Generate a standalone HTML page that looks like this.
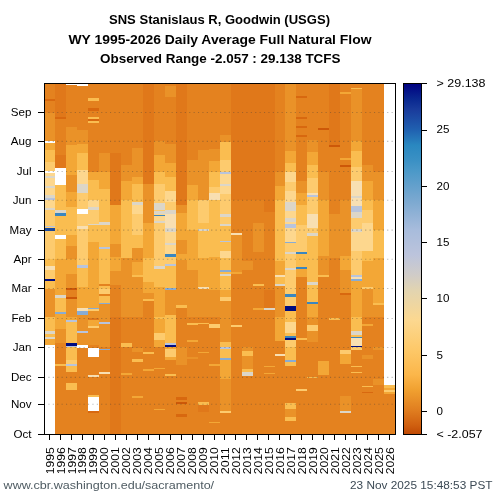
<!DOCTYPE html>
<html><head><meta charset="utf-8"><style>
html,body{margin:0;padding:0;background:#fff;width:500px;height:500px;overflow:hidden}
svg{display:block;will-change:transform}
text{font-family:"Liberation Sans",sans-serif;fill:#000}
.t{font-weight:bold;font-size:13.6px}
.yl{font-size:11.6px}
.xl{font-size:11.6px}
.cl{font-size:11.6px}
.ft{font-size:11.6px}
</style></head><body>
<svg width="500" height="500" viewBox="0 0 500 500" shape-rendering="crispEdges">
<defs><linearGradient id="cg" x1="0" y1="0" x2="0" y2="1"><stop offset="0.0000" stop-color="#000080"/><stop offset="0.0461" stop-color="#0a2890"/><stop offset="0.0769" stop-color="#1a3c9c"/><stop offset="0.1326" stop-color="#2060b0"/><stop offset="0.1775" stop-color="#2a88c0"/><stop offset="0.2192" stop-color="#3a90c4"/><stop offset="0.2481" stop-color="#4a98c8"/><stop offset="0.3333" stop-color="#7aa8d0"/><stop offset="0.4189" stop-color="#a8bcdc"/><stop offset="0.4901" stop-color="#bcc4dc"/><stop offset="0.5471" stop-color="#d0ccc8"/><stop offset="0.5911" stop-color="#e2d4b0"/><stop offset="0.6754" stop-color="#fcd890"/><stop offset="0.7610" stop-color="#fdc868"/><stop offset="0.8315" stop-color="#fbb64a"/><stop offset="0.8748" stop-color="#f0a030"/><stop offset="0.9318" stop-color="#e07e20"/><stop offset="0.9745" stop-color="#d06010"/><stop offset="1.0000" stop-color="#c04a04"/></linearGradient></defs>
<g><rect x="45" y="83" width="10" height="16" fill="#e4821f"/><rect x="45" y="99" width="10" height="2" fill="#d8680f"/><rect x="45" y="101" width="10" height="12" fill="#e4821f"/><rect x="45" y="113" width="10" height="28" fill="#ea9228"/><rect x="45" y="141" width="10" height="2" fill="#ffffff"/><rect x="45" y="143" width="10" height="7" fill="#f3a736"/><rect x="45" y="150" width="10" height="12" fill="#fabd50"/><rect x="45" y="162" width="10" height="9" fill="#fdcb6e"/><rect x="45" y="171" width="10" height="2" fill="#ffffff"/><rect x="45" y="173" width="10" height="3" fill="#fdd78e"/><rect x="45" y="176" width="10" height="2" fill="#dcd6c8"/><rect x="45" y="178" width="10" height="8" fill="#fdd78e"/><rect x="45" y="186" width="10" height="2" fill="#dcd6c8"/><rect x="45" y="188" width="10" height="7" fill="#fdd78e"/><rect x="45" y="195" width="10" height="3" fill="#dcd6c8"/><rect x="45" y="198" width="10" height="2" fill="#b8c4dc"/><rect x="45" y="200" width="10" height="8" fill="#fdd78e"/><rect x="45" y="208" width="10" height="2" fill="#dcd6c8"/><rect x="45" y="210" width="10" height="16" fill="#fdcb6e"/><rect x="45" y="226" width="10" height="1" fill="#b8c4dc"/><rect x="45" y="227" width="10" height="1" fill="#fdcb6e"/><rect x="45" y="228" width="10" height="3" fill="#1a4aa0"/><rect x="45" y="231" width="10" height="28" fill="#fdcb6e"/><rect x="45" y="259" width="10" height="7" fill="#fabd50"/><rect x="45" y="266" width="10" height="4" fill="#f8dfb2"/><rect x="45" y="270" width="10" height="9" fill="#fdcb6e"/><rect x="45" y="279" width="10" height="2" fill="#000c80"/><rect x="45" y="281" width="10" height="8" fill="#fabd50"/><rect x="45" y="289" width="10" height="28" fill="#ea9228"/><rect x="45" y="317" width="10" height="14" fill="#fabd50"/><rect x="45" y="331" width="10" height="3" fill="#dcd6c8"/><rect x="45" y="334" width="10" height="3" fill="#fabd50"/><rect x="45" y="337" width="10" height="2" fill="#dcd6c8"/><rect x="45" y="339" width="10" height="6" fill="#f3a736"/><rect x="45" y="345" width="10" height="89" fill="#ffffff"/><rect x="55" y="83" width="11" height="34" fill="#e0781a"/><rect x="55" y="117" width="11" height="2" fill="#d8680f"/><rect x="55" y="119" width="11" height="36" fill="#e4821f"/><rect x="55" y="155" width="11" height="13" fill="#e0781a"/><rect x="55" y="168" width="11" height="17" fill="#ffffff"/><rect x="55" y="185" width="11" height="25" fill="#fabd50"/><rect x="55" y="210" width="11" height="3" fill="#dcd6c8"/><rect x="55" y="213" width="11" height="3" fill="#3a86c0"/><rect x="55" y="216" width="11" height="19" fill="#fabd50"/><rect x="55" y="235" width="11" height="4" fill="#ffffff"/><rect x="55" y="239" width="11" height="20" fill="#fabd50"/><rect x="55" y="259" width="11" height="36" fill="#f3a736"/><rect x="55" y="295" width="11" height="3" fill="#dcd6c8"/><rect x="55" y="298" width="11" height="14" fill="#fabd50"/><rect x="55" y="312" width="11" height="2" fill="#88acd4"/><rect x="55" y="314" width="11" height="15" fill="#f3a736"/><rect x="55" y="329" width="11" height="14" fill="#ea9228"/><rect x="55" y="343" width="11" height="21" fill="#e4821f"/><rect x="55" y="364" width="11" height="2" fill="#fabd50"/><rect x="55" y="366" width="11" height="68" fill="#e4821f"/><rect x="66" y="83" width="11" height="2" fill="#ffffff"/><rect x="66" y="85" width="11" height="42" fill="#e4821f"/><rect x="66" y="127" width="11" height="18" fill="#ea9228"/><rect x="66" y="145" width="11" height="30" fill="#f3a736"/><rect x="66" y="175" width="11" height="17" fill="#ea9228"/><rect x="66" y="192" width="11" height="15" fill="#f3a736"/><rect x="66" y="207" width="11" height="28" fill="#fabd50"/><rect x="66" y="235" width="11" height="11" fill="#f3a736"/><rect x="66" y="246" width="11" height="13" fill="#ea9228"/><rect x="66" y="259" width="11" height="15" fill="#f3a736"/><rect x="66" y="274" width="11" height="8" fill="#ea9228"/><rect x="66" y="282" width="11" height="6" fill="#ea9228"/><rect x="66" y="288" width="11" height="2" fill="#cd5808"/><rect x="66" y="290" width="11" height="7" fill="#e4821f"/><rect x="66" y="297" width="11" height="2" fill="#cd5808"/><rect x="66" y="299" width="11" height="18" fill="#ea9228"/><rect x="66" y="317" width="11" height="3" fill="#f3a736"/><rect x="66" y="320" width="11" height="2" fill="#b8c4dc"/><rect x="66" y="322" width="11" height="21" fill="#fabd50"/><rect x="66" y="343" width="11" height="3" fill="#000c80"/><rect x="66" y="346" width="11" height="1" fill="#b8c4dc"/><rect x="66" y="347" width="11" height="13" fill="#fabd50"/><rect x="66" y="360" width="11" height="4" fill="#fdcb6e"/><rect x="66" y="364" width="11" height="2" fill="#b8c4dc"/><rect x="66" y="366" width="11" height="6" fill="#fabd50"/><rect x="66" y="372" width="11" height="11" fill="#e4821f"/><rect x="66" y="383" width="11" height="7" fill="#fabd50"/><rect x="66" y="390" width="11" height="44" fill="#e4821f"/><rect x="77" y="83" width="11" height="3" fill="#ffffff"/><rect x="77" y="86" width="11" height="44" fill="#e4821f"/><rect x="77" y="130" width="11" height="14" fill="#ea9228"/><rect x="77" y="144" width="11" height="9" fill="#f3a736"/><rect x="77" y="153" width="11" height="17" fill="#fabd50"/><rect x="77" y="170" width="11" height="14" fill="#fdd78e"/><rect x="77" y="184" width="11" height="9" fill="#dcd6c8"/><rect x="77" y="193" width="11" height="16" fill="#fdcb6e"/><rect x="77" y="209" width="11" height="5" fill="#ffffff"/><rect x="77" y="214" width="11" height="12" fill="#fdcb6e"/><rect x="77" y="226" width="11" height="3" fill="#f8dfb2"/><rect x="77" y="229" width="11" height="36" fill="#fdcb6e"/><rect x="77" y="265" width="11" height="3" fill="#b8c4dc"/><rect x="77" y="268" width="11" height="19" fill="#fabd50"/><rect x="77" y="287" width="11" height="21" fill="#f3a736"/><rect x="77" y="308" width="11" height="3" fill="#f8dfb2"/><rect x="77" y="311" width="11" height="4" fill="#88acd4"/><rect x="77" y="315" width="11" height="16" fill="#ea9228"/><rect x="77" y="331" width="11" height="2" fill="#b8c4dc"/><rect x="77" y="333" width="11" height="12" fill="#ea9228"/><rect x="77" y="345" width="11" height="3" fill="#ffffff"/><rect x="77" y="348" width="11" height="86" fill="#e4821f"/><rect x="88" y="83" width="11" height="15" fill="#e4821f"/><rect x="88" y="98" width="11" height="3" fill="#fabd50"/><rect x="88" y="101" width="11" height="7" fill="#e4821f"/><rect x="88" y="108" width="11" height="3" fill="#d8680f"/><rect x="88" y="111" width="11" height="6" fill="#e4821f"/><rect x="88" y="117" width="11" height="2" fill="#fabd50"/><rect x="88" y="119" width="11" height="2" fill="#d8680f"/><rect x="88" y="121" width="11" height="2" fill="#fabd50"/><rect x="88" y="123" width="11" height="49" fill="#e4821f"/><rect x="88" y="172" width="11" height="8" fill="#f3a736"/><rect x="88" y="180" width="11" height="20" fill="#fabd50"/><rect x="88" y="200" width="11" height="7" fill="#fdd78e"/><rect x="88" y="207" width="11" height="3" fill="#dcd6c8"/><rect x="88" y="210" width="11" height="14" fill="#fdcb6e"/><rect x="88" y="224" width="11" height="1" fill="#dcd6c8"/><rect x="88" y="225" width="11" height="17" fill="#fabd50"/><rect x="88" y="242" width="11" height="19" fill="#f3a736"/><rect x="88" y="261" width="11" height="47" fill="#f3a736"/><rect x="88" y="308" width="11" height="1" fill="#88acd4"/><rect x="88" y="309" width="11" height="2" fill="#fdcb6e"/><rect x="88" y="311" width="11" height="7" fill="#ea9228"/><rect x="88" y="318" width="11" height="2" fill="#e0781a"/><rect x="88" y="320" width="11" height="6" fill="#f3a736"/><rect x="88" y="326" width="11" height="2" fill="#fdcb6e"/><rect x="88" y="328" width="11" height="17" fill="#ea9228"/><rect x="88" y="345" width="11" height="3" fill="#e4821f"/><rect x="88" y="348" width="11" height="9" fill="#ffffff"/><rect x="88" y="357" width="11" height="18" fill="#e4821f"/><rect x="88" y="375" width="11" height="2" fill="#f8dfb2"/><rect x="88" y="377" width="11" height="18" fill="#e4821f"/><rect x="88" y="395" width="11" height="2" fill="#fabd50"/><rect x="88" y="397" width="11" height="14" fill="#ffffff"/><rect x="88" y="411" width="11" height="2" fill="#d8680f"/><rect x="88" y="413" width="11" height="21" fill="#e4821f"/><rect x="99" y="83" width="11" height="70" fill="#e4821f"/><rect x="99" y="153" width="11" height="19" fill="#ea9228"/><rect x="99" y="172" width="11" height="17" fill="#f3a736"/><rect x="99" y="189" width="11" height="33" fill="#fabd50"/><rect x="99" y="222" width="11" height="3" fill="#dcd6c8"/><rect x="99" y="225" width="11" height="22" fill="#fabd50"/><rect x="99" y="247" width="11" height="2" fill="#b8c4dc"/><rect x="99" y="249" width="11" height="35" fill="#fabd50"/><rect x="99" y="284" width="11" height="2" fill="#e4821f"/><rect x="99" y="286" width="11" height="3" fill="#fabd50"/><rect x="99" y="289" width="11" height="5" fill="#fdcb6e"/><rect x="99" y="294" width="11" height="2" fill="#e4821f"/><rect x="99" y="296" width="11" height="7" fill="#fabd50"/><rect x="99" y="303" width="11" height="1" fill="#88acd4"/><rect x="99" y="304" width="11" height="18" fill="#ea9228"/><rect x="99" y="322" width="11" height="2" fill="#b8c4dc"/><rect x="99" y="324" width="11" height="23" fill="#ea9228"/><rect x="99" y="347" width="11" height="2" fill="#e4821f"/><rect x="99" y="349" width="11" height="1" fill="#88acd4"/><rect x="99" y="350" width="11" height="22" fill="#e4821f"/><rect x="99" y="372" width="11" height="2" fill="#f8dfb2"/><rect x="99" y="374" width="11" height="60" fill="#e4821f"/><rect x="110" y="83" width="11" height="70" fill="#e4821f"/><rect x="110" y="153" width="11" height="52" fill="#e0781a"/><rect x="110" y="205" width="11" height="39" fill="#f3a736"/><rect x="110" y="244" width="11" height="13" fill="#ea9228"/><rect x="110" y="257" width="11" height="14" fill="#f3a736"/><rect x="110" y="271" width="11" height="14" fill="#ea9228"/><rect x="110" y="285" width="11" height="32" fill="#e4821f"/><rect x="110" y="317" width="11" height="117" fill="#e0781a"/><rect x="121" y="83" width="11" height="82" fill="#e4821f"/><rect x="121" y="165" width="11" height="16" fill="#ea9228"/><rect x="121" y="181" width="11" height="19" fill="#f3a736"/><rect x="121" y="200" width="11" height="58" fill="#fabd50"/><rect x="121" y="258" width="11" height="59" fill="#ea9228"/><rect x="121" y="317" width="11" height="26" fill="#e4821f"/><rect x="121" y="343" width="11" height="4" fill="#fabd50"/><rect x="121" y="347" width="11" height="26" fill="#e4821f"/><rect x="121" y="373" width="11" height="2" fill="#f3a736"/><rect x="121" y="375" width="11" height="59" fill="#e4821f"/><rect x="132" y="83" width="11" height="65" fill="#e4821f"/><rect x="132" y="148" width="11" height="29" fill="#ea9228"/><rect x="132" y="177" width="11" height="7" fill="#f3a736"/><rect x="132" y="184" width="11" height="18" fill="#fabd50"/><rect x="132" y="202" width="11" height="3" fill="#dcd6c8"/><rect x="132" y="205" width="11" height="9" fill="#fdd78e"/><rect x="132" y="214" width="11" height="21" fill="#fdcb6e"/><rect x="132" y="235" width="11" height="13" fill="#fabd50"/><rect x="132" y="248" width="11" height="14" fill="#ea9228"/><rect x="132" y="262" width="11" height="13" fill="#f3a736"/><rect x="132" y="275" width="11" height="2" fill="#fabd50"/><rect x="132" y="277" width="11" height="40" fill="#ea9228"/><rect x="132" y="317" width="11" height="31" fill="#e4821f"/><rect x="132" y="348" width="11" height="4" fill="#ea9228"/><rect x="132" y="352" width="11" height="7" fill="#e4821f"/><rect x="132" y="359" width="11" height="3" fill="#fabd50"/><rect x="132" y="362" width="11" height="34" fill="#e4821f"/><rect x="132" y="396" width="11" height="2" fill="#f3a736"/><rect x="132" y="398" width="11" height="36" fill="#e4821f"/><rect x="143" y="83" width="11" height="101" fill="#e0781a"/><rect x="143" y="184" width="11" height="39" fill="#ea9228"/><rect x="143" y="223" width="11" height="35" fill="#f3a736"/><rect x="143" y="258" width="11" height="24" fill="#fabd50"/><rect x="143" y="282" width="11" height="11" fill="#f3a736"/><rect x="143" y="293" width="11" height="6" fill="#ea9228"/><rect x="143" y="299" width="11" height="2" fill="#fabd50"/><rect x="143" y="301" width="11" height="51" fill="#e4821f"/><rect x="143" y="352" width="11" height="2" fill="#fabd50"/><rect x="143" y="354" width="11" height="15" fill="#e4821f"/><rect x="143" y="369" width="11" height="2" fill="#f3a736"/><rect x="143" y="371" width="11" height="63" fill="#e4821f"/><rect x="154" y="83" width="11" height="58" fill="#e4821f"/><rect x="154" y="141" width="11" height="14" fill="#ea9228"/><rect x="154" y="155" width="11" height="17" fill="#f3a736"/><rect x="154" y="172" width="11" height="12" fill="#fabd50"/><rect x="154" y="184" width="11" height="19" fill="#fdcb6e"/><rect x="154" y="203" width="11" height="7" fill="#dcd6c8"/><rect x="154" y="210" width="11" height="1" fill="#fdcb6e"/><rect x="154" y="211" width="11" height="3" fill="#dcd6c8"/><rect x="154" y="214" width="11" height="1" fill="#fdd78e"/><rect x="154" y="215" width="11" height="1" fill="#3a86c0"/><rect x="154" y="216" width="11" height="5" fill="#fdd78e"/><rect x="154" y="221" width="11" height="2" fill="#dcd6c8"/><rect x="154" y="223" width="11" height="43" fill="#fdcb6e"/><rect x="154" y="266" width="11" height="3" fill="#dcd6c8"/><rect x="154" y="269" width="11" height="18" fill="#fabd50"/><rect x="154" y="287" width="11" height="30" fill="#f3a736"/><rect x="154" y="317" width="11" height="2" fill="#fabd50"/><rect x="154" y="319" width="11" height="14" fill="#f3a736"/><rect x="154" y="333" width="11" height="7" fill="#fdcb6e"/><rect x="154" y="340" width="11" height="7" fill="#f3a736"/><rect x="154" y="347" width="11" height="21" fill="#e4821f"/><rect x="154" y="368" width="11" height="1" fill="#f3a736"/><rect x="154" y="369" width="11" height="40" fill="#e4821f"/><rect x="154" y="409" width="11" height="1" fill="#f3a736"/><rect x="154" y="410" width="11" height="24" fill="#e4821f"/><rect x="165" y="83" width="11" height="3" fill="#e4821f"/><rect x="165" y="86" width="11" height="11" fill="#ea9228"/><rect x="165" y="97" width="11" height="47" fill="#e4821f"/><rect x="165" y="144" width="11" height="19" fill="#ea9228"/><rect x="165" y="163" width="11" height="14" fill="#f3a736"/><rect x="165" y="177" width="11" height="14" fill="#fabd50"/><rect x="165" y="191" width="11" height="11" fill="#fdd78e"/><rect x="165" y="202" width="11" height="8" fill="#fdcb6e"/><rect x="165" y="210" width="11" height="4" fill="#dcd6c8"/><rect x="165" y="214" width="11" height="14" fill="#f8dfb2"/><rect x="165" y="228" width="11" height="4" fill="#dcd6c8"/><rect x="165" y="232" width="11" height="11" fill="#fdd78e"/><rect x="165" y="243" width="11" height="2" fill="#dcd6c8"/><rect x="165" y="245" width="11" height="9" fill="#fdd78e"/><rect x="165" y="254" width="11" height="3" fill="#3a86c0"/><rect x="165" y="257" width="11" height="7" fill="#fdcb6e"/><rect x="165" y="264" width="11" height="2" fill="#b8c4dc"/><rect x="165" y="266" width="11" height="22" fill="#fabd50"/><rect x="165" y="288" width="11" height="2" fill="#88acd4"/><rect x="165" y="290" width="11" height="25" fill="#ea9228"/><rect x="165" y="315" width="11" height="28" fill="#fabd50"/><rect x="165" y="343" width="11" height="2" fill="#b8c4dc"/><rect x="165" y="345" width="11" height="2" fill="#000c80"/><rect x="165" y="347" width="11" height="2" fill="#f3a736"/><rect x="165" y="349" width="11" height="8" fill="#fdcb6e"/><rect x="165" y="357" width="11" height="3" fill="#f3a736"/><rect x="165" y="360" width="11" height="14" fill="#e4821f"/><rect x="165" y="374" width="11" height="2" fill="#fabd50"/><rect x="165" y="376" width="11" height="58" fill="#e4821f"/><rect x="176" y="83" width="11" height="122" fill="#e0781a"/><rect x="176" y="205" width="11" height="8" fill="#ea9228"/><rect x="176" y="213" width="11" height="27" fill="#f3a736"/><rect x="176" y="240" width="11" height="14" fill="#ea9228"/><rect x="176" y="254" width="11" height="6" fill="#f3a736"/><rect x="176" y="260" width="11" height="45" fill="#ea9228"/><rect x="176" y="305" width="11" height="3" fill="#fabd50"/><rect x="176" y="308" width="11" height="39" fill="#e4821f"/><rect x="176" y="347" width="11" height="18" fill="#ea9228"/><rect x="176" y="365" width="11" height="32" fill="#e4821f"/><rect x="176" y="397" width="11" height="3" fill="#d8680f"/><rect x="176" y="400" width="11" height="2" fill="#e4821f"/><rect x="176" y="402" width="11" height="2" fill="#cd5808"/><rect x="176" y="404" width="11" height="10" fill="#e4821f"/><rect x="176" y="414" width="11" height="3" fill="#d8680f"/><rect x="176" y="417" width="11" height="17" fill="#e4821f"/><rect x="187" y="83" width="11" height="77" fill="#e4821f"/><rect x="187" y="160" width="11" height="25" fill="#ea9228"/><rect x="187" y="185" width="11" height="15" fill="#f3a736"/><rect x="187" y="200" width="11" height="30" fill="#fabd50"/><rect x="187" y="230" width="11" height="40" fill="#f3a736"/><rect x="187" y="270" width="11" height="47" fill="#ea9228"/><rect x="187" y="317" width="11" height="6" fill="#e4821f"/><rect x="187" y="323" width="11" height="2" fill="#fabd50"/><rect x="187" y="325" width="11" height="15" fill="#e4821f"/><rect x="187" y="340" width="11" height="2" fill="#f3a736"/><rect x="187" y="342" width="11" height="15" fill="#e4821f"/><rect x="187" y="357" width="11" height="2" fill="#ea9228"/><rect x="187" y="359" width="11" height="75" fill="#e4821f"/><rect x="198" y="83" width="11" height="67" fill="#e4821f"/><rect x="198" y="150" width="11" height="50" fill="#ea9228"/><rect x="198" y="200" width="11" height="23" fill="#fdcb6e"/><rect x="198" y="223" width="11" height="6" fill="#fabd50"/><rect x="198" y="229" width="11" height="2" fill="#dcd6c8"/><rect x="198" y="231" width="11" height="27" fill="#fabd50"/><rect x="198" y="258" width="11" height="29" fill="#f3a736"/><rect x="198" y="287" width="11" height="2" fill="#f8dfb2"/><rect x="198" y="289" width="11" height="28" fill="#ea9228"/><rect x="198" y="317" width="11" height="6" fill="#e4821f"/><rect x="198" y="323" width="11" height="1" fill="#fabd50"/><rect x="198" y="324" width="11" height="28" fill="#e4821f"/><rect x="198" y="352" width="11" height="1" fill="#f3a736"/><rect x="198" y="353" width="11" height="49" fill="#e4821f"/><rect x="198" y="402" width="11" height="3" fill="#fabd50"/><rect x="198" y="405" width="11" height="7" fill="#e0781a"/><rect x="198" y="412" width="11" height="22" fill="#e4821f"/><rect x="209" y="83" width="11" height="66" fill="#e4821f"/><rect x="209" y="149" width="11" height="12" fill="#ea9228"/><rect x="209" y="161" width="11" height="11" fill="#f3a736"/><rect x="209" y="172" width="11" height="15" fill="#fabd50"/><rect x="209" y="187" width="11" height="6" fill="#fdcb6e"/><rect x="209" y="193" width="11" height="7" fill="#f8dfb2"/><rect x="209" y="200" width="11" height="57" fill="#fabd50"/><rect x="209" y="257" width="11" height="33" fill="#f3a736"/><rect x="209" y="290" width="11" height="27" fill="#ea9228"/><rect x="209" y="317" width="11" height="7" fill="#e4821f"/><rect x="209" y="324" width="11" height="4" fill="#fdcb6e"/><rect x="209" y="328" width="11" height="36" fill="#e4821f"/><rect x="209" y="364" width="11" height="2" fill="#f3a736"/><rect x="209" y="366" width="11" height="56" fill="#e4821f"/><rect x="209" y="422" width="11" height="1" fill="#f3a736"/><rect x="209" y="423" width="11" height="11" fill="#e4821f"/><rect x="220" y="83" width="11" height="52" fill="#e4821f"/><rect x="220" y="135" width="11" height="7" fill="#ea9228"/><rect x="220" y="142" width="11" height="18" fill="#fabd50"/><rect x="220" y="160" width="11" height="12" fill="#fdcb6e"/><rect x="220" y="172" width="11" height="2" fill="#b8c4dc"/><rect x="220" y="174" width="11" height="10" fill="#fdd78e"/><rect x="220" y="184" width="11" height="2" fill="#dcd6c8"/><rect x="220" y="186" width="11" height="8" fill="#fdd78e"/><rect x="220" y="194" width="11" height="20" fill="#fdcb6e"/><rect x="220" y="214" width="11" height="3" fill="#dcd6c8"/><rect x="220" y="217" width="11" height="7" fill="#fdcb6e"/><rect x="220" y="224" width="11" height="2" fill="#dcd6c8"/><rect x="220" y="226" width="11" height="15" fill="#fabd50"/><rect x="220" y="241" width="11" height="1" fill="#b8c4dc"/><rect x="220" y="242" width="11" height="9" fill="#fabd50"/><rect x="220" y="251" width="11" height="7" fill="#fdd78e"/><rect x="220" y="258" width="11" height="12" fill="#fabd50"/><rect x="220" y="270" width="11" height="2" fill="#88acd4"/><rect x="220" y="272" width="11" height="2" fill="#fabd50"/><rect x="220" y="274" width="11" height="2" fill="#dcd6c8"/><rect x="220" y="276" width="11" height="14" fill="#fabd50"/><rect x="220" y="290" width="11" height="7" fill="#f3a736"/><rect x="220" y="297" width="11" height="4" fill="#fdcb6e"/><rect x="220" y="301" width="11" height="41" fill="#ea9228"/><rect x="220" y="342" width="11" height="5" fill="#fabd50"/><rect x="220" y="347" width="11" height="2" fill="#b8c4dc"/><rect x="220" y="349" width="11" height="9" fill="#fabd50"/><rect x="220" y="358" width="11" height="2" fill="#88acd4"/><rect x="220" y="360" width="11" height="19" fill="#f3a736"/><rect x="220" y="379" width="11" height="32" fill="#ea9228"/><rect x="220" y="411" width="11" height="2" fill="#fdcb6e"/><rect x="220" y="413" width="11" height="21" fill="#e4821f"/><rect x="231" y="83" width="11" height="117" fill="#e0781a"/><rect x="231" y="200" width="11" height="33" fill="#e4821f"/><rect x="231" y="233" width="11" height="2" fill="#f8dfb2"/><rect x="231" y="235" width="11" height="37" fill="#ea9228"/><rect x="231" y="272" width="11" height="2" fill="#f3a736"/><rect x="231" y="274" width="11" height="51" fill="#e4821f"/><rect x="231" y="325" width="11" height="2" fill="#fdcb6e"/><rect x="231" y="327" width="11" height="107" fill="#e4821f"/><rect x="242" y="83" width="11" height="117" fill="#e0781a"/><rect x="242" y="200" width="11" height="61" fill="#e4821f"/><rect x="242" y="261" width="11" height="9" fill="#ea9228"/><rect x="242" y="270" width="11" height="77" fill="#e4821f"/><rect x="242" y="347" width="11" height="4" fill="#ea9228"/><rect x="242" y="351" width="11" height="5" fill="#fabd50"/><rect x="242" y="356" width="11" height="13" fill="#ea9228"/><rect x="242" y="369" width="11" height="3" fill="#fabd50"/><rect x="242" y="372" width="11" height="4" fill="#dcd6c8"/><rect x="242" y="376" width="11" height="58" fill="#e4821f"/><rect x="253" y="83" width="11" height="117" fill="#e0781a"/><rect x="253" y="200" width="11" height="23" fill="#e4821f"/><rect x="253" y="223" width="11" height="29" fill="#ea9228"/><rect x="253" y="252" width="11" height="32" fill="#e4821f"/><rect x="253" y="284" width="11" height="2" fill="#fabd50"/><rect x="253" y="286" width="11" height="22" fill="#e4821f"/><rect x="253" y="308" width="11" height="2" fill="#f3a736"/><rect x="253" y="310" width="11" height="124" fill="#e4821f"/><rect x="264" y="83" width="11" height="129" fill="#e0781a"/><rect x="264" y="212" width="11" height="78" fill="#e4821f"/><rect x="264" y="290" width="11" height="18" fill="#e0781a"/><rect x="264" y="308" width="11" height="2" fill="#dcd6c8"/><rect x="264" y="310" width="11" height="56" fill="#e4821f"/><rect x="264" y="366" width="11" height="1" fill="#f3a736"/><rect x="264" y="367" width="11" height="6" fill="#e4821f"/><rect x="264" y="373" width="11" height="1" fill="#f3a736"/><rect x="264" y="374" width="11" height="60" fill="#e4821f"/><rect x="275" y="83" width="10" height="89" fill="#e4821f"/><rect x="275" y="172" width="10" height="14" fill="#ea9228"/><rect x="275" y="186" width="10" height="14" fill="#f3a736"/><rect x="275" y="200" width="10" height="61" fill="#fabd50"/><rect x="275" y="261" width="10" height="14" fill="#f3a736"/><rect x="275" y="275" width="10" height="2" fill="#f8dfb2"/><rect x="275" y="277" width="10" height="7" fill="#fabd50"/><rect x="275" y="284" width="10" height="2" fill="#dcd6c8"/><rect x="275" y="286" width="10" height="31" fill="#ea9228"/><rect x="275" y="317" width="10" height="24" fill="#f3a736"/><rect x="275" y="341" width="10" height="13" fill="#e4821f"/><rect x="275" y="354" width="10" height="2" fill="#f8dfb2"/><rect x="275" y="356" width="10" height="78" fill="#e4821f"/><rect x="285" y="83" width="11" height="68" fill="#ea9228"/><rect x="285" y="151" width="11" height="12" fill="#f3a736"/><rect x="285" y="163" width="11" height="9" fill="#fabd50"/><rect x="285" y="172" width="11" height="10" fill="#fdd78e"/><rect x="285" y="182" width="11" height="9" fill="#fdcb6e"/><rect x="285" y="191" width="11" height="11" fill="#fdd78e"/><rect x="285" y="202" width="11" height="9" fill="#dcd6c8"/><rect x="285" y="211" width="11" height="7" fill="#fdd78e"/><rect x="285" y="218" width="11" height="4" fill="#dcd6c8"/><rect x="285" y="222" width="11" height="2" fill="#fdd78e"/><rect x="285" y="224" width="11" height="4" fill="#b8c4dc"/><rect x="285" y="228" width="11" height="14" fill="#fdd78e"/><rect x="285" y="242" width="11" height="1" fill="#88acd4"/><rect x="285" y="243" width="11" height="9" fill="#fdcb6e"/><rect x="285" y="252" width="11" height="2" fill="#dcd6c8"/><rect x="285" y="254" width="11" height="14" fill="#fdcb6e"/><rect x="285" y="268" width="11" height="2" fill="#dcd6c8"/><rect x="285" y="270" width="11" height="24" fill="#fdcb6e"/><rect x="285" y="294" width="11" height="3" fill="#3a86c0"/><rect x="285" y="297" width="11" height="9" fill="#fdcb6e"/><rect x="285" y="306" width="11" height="5" fill="#000c80"/><rect x="285" y="311" width="11" height="11" fill="#fabd50"/><rect x="285" y="322" width="11" height="11" fill="#fdd78e"/><rect x="285" y="333" width="11" height="3" fill="#fabd50"/><rect x="285" y="336" width="11" height="2" fill="#3a86c0"/><rect x="285" y="338" width="11" height="2" fill="#000c80"/><rect x="285" y="340" width="11" height="7" fill="#fdcb6e"/><rect x="285" y="347" width="11" height="13" fill="#fabd50"/><rect x="285" y="360" width="11" height="2" fill="#88acd4"/><rect x="285" y="362" width="11" height="4" fill="#fabd50"/><rect x="285" y="366" width="11" height="37" fill="#e4821f"/><rect x="285" y="403" width="11" height="6" fill="#fabd50"/><rect x="285" y="409" width="11" height="8" fill="#ea9228"/><rect x="285" y="417" width="11" height="4" fill="#fabd50"/><rect x="285" y="421" width="11" height="13" fill="#e4821f"/><rect x="296" y="83" width="11" height="13" fill="#e4821f"/><rect x="296" y="96" width="11" height="2" fill="#d8680f"/><rect x="296" y="98" width="11" height="19" fill="#e4821f"/><rect x="296" y="117" width="11" height="2" fill="#d8680f"/><rect x="296" y="119" width="11" height="7" fill="#e4821f"/><rect x="296" y="126" width="11" height="2" fill="#d8680f"/><rect x="296" y="128" width="11" height="7" fill="#e4821f"/><rect x="296" y="135" width="11" height="2" fill="#d8680f"/><rect x="296" y="137" width="11" height="44" fill="#e4821f"/><rect x="296" y="181" width="11" height="12" fill="#ea9228"/><rect x="296" y="193" width="11" height="12" fill="#f3a736"/><rect x="296" y="205" width="11" height="20" fill="#fabd50"/><rect x="296" y="225" width="11" height="27" fill="#fdcb6e"/><rect x="296" y="252" width="11" height="2" fill="#3a86c0"/><rect x="296" y="254" width="11" height="13" fill="#fabd50"/><rect x="296" y="267" width="11" height="2" fill="#3a86c0"/><rect x="296" y="269" width="11" height="8" fill="#f3a736"/><rect x="296" y="277" width="11" height="61" fill="#e4821f"/><rect x="296" y="338" width="11" height="2" fill="#fabd50"/><rect x="296" y="340" width="11" height="49" fill="#e4821f"/><rect x="296" y="389" width="11" height="2" fill="#fdcb6e"/><rect x="296" y="391" width="11" height="43" fill="#e4821f"/><rect x="307" y="83" width="11" height="57" fill="#e4821f"/><rect x="307" y="140" width="11" height="12" fill="#ea9228"/><rect x="307" y="152" width="11" height="13" fill="#f3a736"/><rect x="307" y="165" width="11" height="13" fill="#fabd50"/><rect x="307" y="178" width="11" height="15" fill="#fdcb6e"/><rect x="307" y="193" width="11" height="2" fill="#f8dfb2"/><rect x="307" y="195" width="11" height="2" fill="#b8c4dc"/><rect x="307" y="197" width="11" height="17" fill="#fdcb6e"/><rect x="307" y="214" width="11" height="14" fill="#f8dfb2"/><rect x="307" y="228" width="11" height="5" fill="#fdcb6e"/><rect x="307" y="233" width="11" height="3" fill="#dcd6c8"/><rect x="307" y="236" width="11" height="46" fill="#fabd50"/><rect x="307" y="282" width="11" height="3" fill="#dcd6c8"/><rect x="307" y="285" width="11" height="17" fill="#fabd50"/><rect x="307" y="302" width="11" height="2" fill="#3a86c0"/><rect x="307" y="304" width="11" height="13" fill="#f3a736"/><rect x="307" y="317" width="11" height="8" fill="#ea9228"/><rect x="307" y="325" width="11" height="6" fill="#fdcb6e"/><rect x="307" y="331" width="11" height="11" fill="#ea9228"/><rect x="307" y="342" width="11" height="35" fill="#e4821f"/><rect x="307" y="377" width="11" height="1" fill="#fabd50"/><rect x="307" y="378" width="11" height="56" fill="#e4821f"/><rect x="318" y="83" width="11" height="45" fill="#e4821f"/><rect x="318" y="128" width="11" height="2" fill="#cd5808"/><rect x="318" y="130" width="11" height="42" fill="#e4821f"/><rect x="318" y="172" width="11" height="28" fill="#ea9228"/><rect x="318" y="200" width="11" height="56" fill="#f3a736"/><rect x="318" y="256" width="11" height="19" fill="#ea9228"/><rect x="318" y="275" width="11" height="2" fill="#fabd50"/><rect x="318" y="277" width="11" height="84" fill="#e4821f"/><rect x="318" y="361" width="11" height="14" fill="#f3a736"/><rect x="318" y="375" width="11" height="59" fill="#e4821f"/><rect x="329" y="83" width="11" height="62" fill="#e0781a"/><rect x="329" y="145" width="11" height="2" fill="#cd5808"/><rect x="329" y="147" width="11" height="67" fill="#e4821f"/><rect x="329" y="214" width="11" height="44" fill="#ea9228"/><rect x="329" y="258" width="11" height="60" fill="#e4821f"/><rect x="329" y="318" width="11" height="2" fill="#fabd50"/><rect x="329" y="320" width="11" height="114" fill="#e4821f"/><rect x="340" y="83" width="11" height="9" fill="#e4821f"/><rect x="340" y="92" width="11" height="2" fill="#f3a736"/><rect x="340" y="94" width="11" height="64" fill="#e4821f"/><rect x="340" y="158" width="11" height="2" fill="#f3a736"/><rect x="340" y="160" width="11" height="5" fill="#e4821f"/><rect x="340" y="165" width="11" height="2" fill="#cd5808"/><rect x="340" y="167" width="11" height="33" fill="#e4821f"/><rect x="340" y="200" width="11" height="56" fill="#ea9228"/><rect x="340" y="256" width="11" height="14" fill="#f3a736"/><rect x="340" y="270" width="11" height="23" fill="#ea9228"/><rect x="340" y="293" width="11" height="2" fill="#d8680f"/><rect x="340" y="295" width="11" height="55" fill="#e4821f"/><rect x="340" y="350" width="11" height="4" fill="#fdcb6e"/><rect x="340" y="354" width="11" height="10" fill="#f3a736"/><rect x="340" y="364" width="11" height="32" fill="#e4821f"/><rect x="340" y="396" width="11" height="15" fill="#ea9228"/><rect x="340" y="411" width="11" height="2" fill="#dcd6c8"/><rect x="340" y="413" width="11" height="21" fill="#e4821f"/><rect x="351" y="83" width="11" height="5" fill="#e4821f"/><rect x="351" y="88" width="11" height="1" fill="#fabd50"/><rect x="351" y="89" width="11" height="52" fill="#ea9228"/><rect x="351" y="141" width="11" height="10" fill="#f3a736"/><rect x="351" y="151" width="11" height="16" fill="#fabd50"/><rect x="351" y="167" width="11" height="14" fill="#fdcb6e"/><rect x="351" y="181" width="11" height="15" fill="#f8dfb2"/><rect x="351" y="196" width="11" height="2" fill="#dcd6c8"/><rect x="351" y="198" width="11" height="8" fill="#f8dfb2"/><rect x="351" y="206" width="11" height="6" fill="#b8c4dc"/><rect x="351" y="212" width="11" height="6" fill="#dcd6c8"/><rect x="351" y="218" width="11" height="11" fill="#fdcb6e"/><rect x="351" y="229" width="11" height="3" fill="#dcd6c8"/><rect x="351" y="232" width="11" height="19" fill="#fdd78e"/><rect x="351" y="251" width="11" height="24" fill="#fdcb6e"/><rect x="351" y="275" width="11" height="2" fill="#b8c4dc"/><rect x="351" y="277" width="11" height="2" fill="#f8dfb2"/><rect x="351" y="279" width="11" height="2" fill="#88acd4"/><rect x="351" y="281" width="11" height="36" fill="#f3a736"/><rect x="351" y="317" width="11" height="14" fill="#fabd50"/><rect x="351" y="331" width="11" height="4" fill="#dcd6c8"/><rect x="351" y="335" width="11" height="2" fill="#fabd50"/><rect x="351" y="337" width="11" height="1" fill="#3a86c0"/><rect x="351" y="338" width="11" height="8" fill="#f8dfb2"/><rect x="351" y="346" width="11" height="1" fill="#000c80"/><rect x="351" y="347" width="11" height="3" fill="#fdcb6e"/><rect x="351" y="350" width="11" height="16" fill="#e4821f"/><rect x="351" y="366" width="11" height="1" fill="#fabd50"/><rect x="351" y="367" width="11" height="5" fill="#e4821f"/><rect x="351" y="372" width="11" height="1" fill="#fabd50"/><rect x="351" y="373" width="11" height="61" fill="#e4821f"/><rect x="362" y="83" width="11" height="82" fill="#e4821f"/><rect x="362" y="165" width="11" height="16" fill="#ea9228"/><rect x="362" y="181" width="11" height="19" fill="#f3a736"/><rect x="362" y="200" width="11" height="10" fill="#fabd50"/><rect x="362" y="210" width="11" height="13" fill="#fdcb6e"/><rect x="362" y="223" width="11" height="28" fill="#fdd78e"/><rect x="362" y="251" width="11" height="10" fill="#fabd50"/><rect x="362" y="261" width="11" height="26" fill="#f3a736"/><rect x="362" y="287" width="11" height="2" fill="#fdcb6e"/><rect x="362" y="289" width="11" height="28" fill="#ea9228"/><rect x="362" y="317" width="11" height="7" fill="#e4821f"/><rect x="362" y="324" width="11" height="2" fill="#f3a736"/><rect x="362" y="326" width="11" height="29" fill="#e4821f"/><rect x="362" y="355" width="11" height="4" fill="#ea9228"/><rect x="362" y="359" width="11" height="27" fill="#e4821f"/><rect x="362" y="386" width="11" height="1" fill="#fabd50"/><rect x="362" y="387" width="11" height="5" fill="#e4821f"/><rect x="362" y="392" width="11" height="1" fill="#d8680f"/><rect x="362" y="393" width="11" height="41" fill="#e4821f"/><rect x="373" y="83" width="11" height="89" fill="#e4821f"/><rect x="373" y="172" width="11" height="28" fill="#ea9228"/><rect x="373" y="200" width="11" height="30" fill="#f3a736"/><rect x="373" y="230" width="11" height="28" fill="#fabd50"/><rect x="373" y="258" width="11" height="45" fill="#f3a736"/><rect x="373" y="303" width="11" height="2" fill="#fabd50"/><rect x="373" y="305" width="11" height="12" fill="#ea9228"/><rect x="373" y="317" width="11" height="30" fill="#e4821f"/><rect x="373" y="347" width="11" height="3" fill="#ea9228"/><rect x="373" y="350" width="11" height="29" fill="#e4821f"/><rect x="373" y="379" width="11" height="6" fill="#ea9228"/><rect x="373" y="385" width="11" height="49" fill="#e4821f"/><rect x="384" y="83" width="11" height="302" fill="#ffffff"/><rect x="384" y="385" width="11" height="3" fill="#fabd50"/><rect x="384" y="388" width="11" height="2" fill="#f3a736"/><rect x="384" y="390" width="11" height="2" fill="#fdcb6e"/><rect x="384" y="392" width="11" height="2" fill="#f3a736"/><rect x="384" y="394" width="11" height="40" fill="#e4821f"/></g>
<g shape-rendering="auto"><line x1="48.4" y1="404.30" x2="395" y2="404.30" stroke="rgba(60,60,60,0.38)" stroke-width="1.1" stroke-dasharray="1.1 3.3"/><line x1="48.4" y1="377.40" x2="395" y2="377.40" stroke="rgba(60,60,60,0.38)" stroke-width="1.1" stroke-dasharray="1.1 3.3"/><line x1="48.4" y1="347.50" x2="395" y2="347.50" stroke="rgba(60,60,60,0.38)" stroke-width="1.1" stroke-dasharray="1.1 3.3"/><line x1="48.4" y1="318.50" x2="395" y2="318.50" stroke="rgba(60,60,60,0.38)" stroke-width="1.1" stroke-dasharray="1.1 3.3"/><line x1="48.4" y1="288.50" x2="395" y2="288.50" stroke="rgba(60,60,60,0.38)" stroke-width="1.1" stroke-dasharray="1.1 3.3"/><line x1="48.4" y1="259.30" x2="395" y2="259.30" stroke="rgba(60,60,60,0.38)" stroke-width="1.1" stroke-dasharray="1.1 3.3"/><line x1="48.4" y1="230.10" x2="395" y2="230.10" stroke="rgba(60,60,60,0.38)" stroke-width="1.1" stroke-dasharray="1.1 3.3"/><line x1="48.4" y1="200.30" x2="395" y2="200.30" stroke="rgba(60,60,60,0.38)" stroke-width="1.1" stroke-dasharray="1.1 3.3"/><line x1="48.4" y1="171.50" x2="395" y2="171.50" stroke="rgba(60,60,60,0.38)" stroke-width="1.1" stroke-dasharray="1.1 3.3"/><line x1="48.4" y1="141.40" x2="395" y2="141.40" stroke="rgba(60,60,60,0.38)" stroke-width="1.1" stroke-dasharray="1.1 3.3"/><line x1="48.4" y1="112.50" x2="395" y2="112.50" stroke="rgba(60,60,60,0.38)" stroke-width="1.1" stroke-dasharray="1.1 3.3"/></g>
<rect x="44.5" y="83.5" width="351" height="351" fill="none" stroke="#000" stroke-width="1"/>
<g><rect x="38" y="434" width="6" height="1" fill="#000"/><rect x="38" y="404" width="6" height="1" fill="#000"/><rect x="38" y="377" width="6" height="1" fill="#000"/><rect x="38" y="347" width="6" height="1" fill="#000"/><rect x="38" y="318" width="6" height="1" fill="#000"/><rect x="38" y="288" width="6" height="1" fill="#000"/><rect x="38" y="259" width="6" height="1" fill="#000"/><rect x="38" y="230" width="6" height="1" fill="#000"/><rect x="38" y="200" width="6" height="1" fill="#000"/><rect x="38" y="171" width="6" height="1" fill="#000"/><rect x="38" y="141" width="6" height="1" fill="#000"/><rect x="38" y="112" width="6" height="1" fill="#000"/><rect x="49" y="434" width="1" height="6" fill="#000"/><rect x="60" y="434" width="1" height="6" fill="#000"/><rect x="71" y="434" width="1" height="6" fill="#000"/><rect x="82" y="434" width="1" height="6" fill="#000"/><rect x="93" y="434" width="1" height="6" fill="#000"/><rect x="104" y="434" width="1" height="6" fill="#000"/><rect x="115" y="434" width="1" height="6" fill="#000"/><rect x="126" y="434" width="1" height="6" fill="#000"/><rect x="137" y="434" width="1" height="6" fill="#000"/><rect x="148" y="434" width="1" height="6" fill="#000"/><rect x="159" y="434" width="1" height="6" fill="#000"/><rect x="170" y="434" width="1" height="6" fill="#000"/><rect x="181" y="434" width="1" height="6" fill="#000"/><rect x="192" y="434" width="1" height="6" fill="#000"/><rect x="203" y="434" width="1" height="6" fill="#000"/><rect x="214" y="434" width="1" height="6" fill="#000"/><rect x="224" y="434" width="1" height="6" fill="#000"/><rect x="235" y="434" width="1" height="6" fill="#000"/><rect x="246" y="434" width="1" height="6" fill="#000"/><rect x="257" y="434" width="1" height="6" fill="#000"/><rect x="268" y="434" width="1" height="6" fill="#000"/><rect x="279" y="434" width="1" height="6" fill="#000"/><rect x="290" y="434" width="1" height="6" fill="#000"/><rect x="301" y="434" width="1" height="6" fill="#000"/><rect x="312" y="434" width="1" height="6" fill="#000"/><rect x="323" y="434" width="1" height="6" fill="#000"/><rect x="334" y="434" width="1" height="6" fill="#000"/><rect x="345" y="434" width="1" height="6" fill="#000"/><rect x="356" y="434" width="1" height="6" fill="#000"/><rect x="367" y="434" width="1" height="6" fill="#000"/><rect x="378" y="434" width="1" height="6" fill="#000"/><rect x="389" y="434" width="1" height="6" fill="#000"/></g>
<g shape-rendering="auto"><text x="31.5" y="438.20" text-anchor="end" class="yl">Oct</text><text x="31.5" y="408.10" text-anchor="end" class="yl">Nov</text><text x="31.5" y="381.20" text-anchor="end" class="yl">Dec</text><text x="31.5" y="351.30" text-anchor="end" class="yl">Jan</text><text x="31.5" y="322.30" text-anchor="end" class="yl">Feb</text><text x="31.5" y="292.30" text-anchor="end" class="yl">Mar</text><text x="31.5" y="263.10" text-anchor="end" class="yl">Apr</text><text x="31.5" y="233.90" text-anchor="end" class="yl">May</text><text x="31.5" y="204.10" text-anchor="end" class="yl">Jun</text><text x="31.5" y="175.30" text-anchor="end" class="yl">Jul</text><text x="31.5" y="145.20" text-anchor="end" class="yl">Aug</text><text x="31.5" y="116.30" text-anchor="end" class="yl">Sep</text><text transform="translate(53.58,447.3) rotate(-90)" text-anchor="end" class="xl" textLength="27" lengthAdjust="spacingAndGlyphs">1995</text><text transform="translate(64.55,447.3) rotate(-90)" text-anchor="end" class="xl" textLength="27" lengthAdjust="spacingAndGlyphs">1996</text><text transform="translate(75.52,447.3) rotate(-90)" text-anchor="end" class="xl" textLength="27" lengthAdjust="spacingAndGlyphs">1997</text><text transform="translate(86.49,447.3) rotate(-90)" text-anchor="end" class="xl" textLength="27" lengthAdjust="spacingAndGlyphs">1998</text><text transform="translate(97.46,447.3) rotate(-90)" text-anchor="end" class="xl" textLength="27" lengthAdjust="spacingAndGlyphs">1999</text><text transform="translate(108.43,447.3) rotate(-90)" text-anchor="end" class="xl" textLength="27" lengthAdjust="spacingAndGlyphs">2000</text><text transform="translate(119.40,447.3) rotate(-90)" text-anchor="end" class="xl" textLength="27" lengthAdjust="spacingAndGlyphs">2001</text><text transform="translate(130.37,447.3) rotate(-90)" text-anchor="end" class="xl" textLength="27" lengthAdjust="spacingAndGlyphs">2002</text><text transform="translate(141.33,447.3) rotate(-90)" text-anchor="end" class="xl" textLength="27" lengthAdjust="spacingAndGlyphs">2003</text><text transform="translate(152.30,447.3) rotate(-90)" text-anchor="end" class="xl" textLength="27" lengthAdjust="spacingAndGlyphs">2004</text><text transform="translate(163.27,447.3) rotate(-90)" text-anchor="end" class="xl" textLength="27" lengthAdjust="spacingAndGlyphs">2005</text><text transform="translate(174.24,447.3) rotate(-90)" text-anchor="end" class="xl" textLength="27" lengthAdjust="spacingAndGlyphs">2006</text><text transform="translate(185.21,447.3) rotate(-90)" text-anchor="end" class="xl" textLength="27" lengthAdjust="spacingAndGlyphs">2007</text><text transform="translate(196.18,447.3) rotate(-90)" text-anchor="end" class="xl" textLength="27" lengthAdjust="spacingAndGlyphs">2008</text><text transform="translate(207.15,447.3) rotate(-90)" text-anchor="end" class="xl" textLength="27" lengthAdjust="spacingAndGlyphs">2009</text><text transform="translate(218.12,447.3) rotate(-90)" text-anchor="end" class="xl" textLength="27" lengthAdjust="spacingAndGlyphs">2010</text><text transform="translate(229.08,447.3) rotate(-90)" text-anchor="end" class="xl" textLength="27" lengthAdjust="spacingAndGlyphs">2011</text><text transform="translate(240.05,447.3) rotate(-90)" text-anchor="end" class="xl" textLength="27" lengthAdjust="spacingAndGlyphs">2012</text><text transform="translate(251.02,447.3) rotate(-90)" text-anchor="end" class="xl" textLength="27" lengthAdjust="spacingAndGlyphs">2013</text><text transform="translate(261.99,447.3) rotate(-90)" text-anchor="end" class="xl" textLength="27" lengthAdjust="spacingAndGlyphs">2014</text><text transform="translate(272.96,447.3) rotate(-90)" text-anchor="end" class="xl" textLength="27" lengthAdjust="spacingAndGlyphs">2015</text><text transform="translate(283.93,447.3) rotate(-90)" text-anchor="end" class="xl" textLength="27" lengthAdjust="spacingAndGlyphs">2016</text><text transform="translate(294.90,447.3) rotate(-90)" text-anchor="end" class="xl" textLength="27" lengthAdjust="spacingAndGlyphs">2017</text><text transform="translate(305.87,447.3) rotate(-90)" text-anchor="end" class="xl" textLength="27" lengthAdjust="spacingAndGlyphs">2018</text><text transform="translate(316.83,447.3) rotate(-90)" text-anchor="end" class="xl" textLength="27" lengthAdjust="spacingAndGlyphs">2019</text><text transform="translate(327.80,447.3) rotate(-90)" text-anchor="end" class="xl" textLength="27" lengthAdjust="spacingAndGlyphs">2020</text><text transform="translate(338.77,447.3) rotate(-90)" text-anchor="end" class="xl" textLength="27" lengthAdjust="spacingAndGlyphs">2021</text><text transform="translate(349.74,447.3) rotate(-90)" text-anchor="end" class="xl" textLength="27" lengthAdjust="spacingAndGlyphs">2022</text><text transform="translate(360.71,447.3) rotate(-90)" text-anchor="end" class="xl" textLength="27" lengthAdjust="spacingAndGlyphs">2023</text><text transform="translate(371.68,447.3) rotate(-90)" text-anchor="end" class="xl" textLength="27" lengthAdjust="spacingAndGlyphs">2024</text><text transform="translate(382.65,447.3) rotate(-90)" text-anchor="end" class="xl" textLength="27" lengthAdjust="spacingAndGlyphs">2025</text><text transform="translate(393.62,447.3) rotate(-90)" text-anchor="end" class="xl" textLength="27" lengthAdjust="spacingAndGlyphs">2026</text></g>
<rect x="403.5" y="83" width="18.0" height="351" fill="url(#cg)"/>
<rect x="403.5" y="83.5" width="18.0" height="351" fill="none" stroke="#000" stroke-width="1"/>
<g><rect x="421" y="130" width="6" height="1" fill="#000"/><rect x="421" y="186" width="6" height="1" fill="#000"/><rect x="421" y="242" width="6" height="1" fill="#000"/><rect x="421" y="298" width="6" height="1" fill="#000"/><rect x="421" y="355" width="6" height="1" fill="#000"/><rect x="421" y="411" width="6" height="1" fill="#000"/><rect x="421" y="83" width="6" height="1" fill="#000"/><rect x="421" y="434" width="6" height="1" fill="#000"/></g>
<g shape-rendering="auto"><text x="436.5" y="133.46" class="cl">25</text><text x="436.5" y="189.72" class="cl">20</text><text x="436.5" y="245.98" class="cl">15</text><text x="436.5" y="302.24" class="cl">10</text><text x="436.5" y="358.50" class="cl">5</text><text x="436.5" y="414.76" class="cl">0</text><text x="436.5" y="87.40" class="cl" textLength="49" lengthAdjust="spacingAndGlyphs">&gt; 29.138</text><text x="436.5" y="438.40" class="cl" textLength="46" lengthAdjust="spacingAndGlyphs">&lt; -2.057</text>
<text x="109" y="24" class="t" textLength="221" lengthAdjust="spacingAndGlyphs">SNS Stanislaus R, Goodwin (USGS)</text>
<text x="68.5" y="43.5" class="t" textLength="303" lengthAdjust="spacingAndGlyphs">WY 1995-2026 Daily Average Full Natural Flow</text>
<text x="100" y="62.5" class="t" textLength="240.5" lengthAdjust="spacingAndGlyphs">Observed Range -2.057 : 29.138 TCFS</text>
<text x="3.6" y="489.2" class="ft" style="fill:#4e5b62" textLength="210.5" lengthAdjust="spacingAndGlyphs">www.cbr.washington.edu/sacramento/</text>
<text x="350" y="489.2" class="ft" style="fill:#3c4a55" textLength="142.5" lengthAdjust="spacingAndGlyphs">23 Nov 2025 15:48:53 PST</text>
</g>
</svg>
</body></html>
